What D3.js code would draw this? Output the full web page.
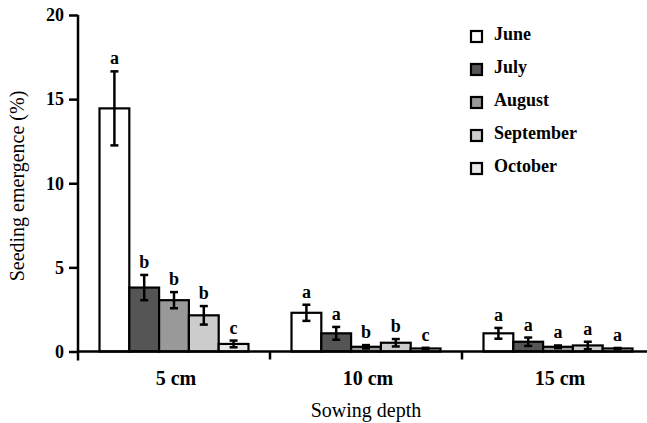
<!DOCTYPE html>
<html>
<head>
<meta charset="utf-8">
<script src="https://cdn.jsdelivr.net/npm/d3@7"></script>
<style>
body { margin: 0; background: #fff; }
</style>
</head>
<body>
<div id="chart"></div>
<script>
// sowing depths and months
var depths = ['5 cm', '10 cm', '15 cm'];
var months = ['June', 'July', 'August', 'September', 'October'];
var colors = ['#ffffff', '#555555', '#999999', '#cccccc', '#e8e8e8'];

// seedling emergence (%) per month, one value per depth
var june = [14.45, 2.3, 1.08];
var july = [3.8, 1.08, 0.58];
var august = [3.05, 0.28, 0.28];
var september = [2.15, 0.52, 0.36];
var october = [0.45, 0.18, 0.18];

// standard errors
var june_err = [2.2, 0.48, 0.32];
var july_err = [0.75, 0.38, 0.25];
var august_err = [0.48, 0.1, 0.08];
var september_err = [0.55, 0.22, 0.22];
var october_err = [0.2, 0.04, 0.03];

// significance letters
var june_sig = ['a', 'a', 'a'];
var july_sig = ['b', 'a', 'a'];
var august_sig = ['b', 'b', 'a'];
var september_sig = ['b', 'b', 'a'];
var october_sig = ['c', 'c', 'a'];

var y_ticks = [0, 5, 10, 15, 20];

var values = [june, july, august, september, october];
var errors = [june_err, july_err, august_err, september_err, october_err];
var letters = [june_sig, july_sig, august_sig, september_sig, october_sig];

var font = '"Liberation Serif", "Times New Roman", "DejaVu Serif", serif';

var svg_width = 647,
	svg_height = 423,
	plot_left = 78,
	plot_right = 654,
	plot_top = 15,
	plot_bottom = 351.5;

var svg = d3.select('#chart')
	.append('svg')
	.attr('width', svg_width)
	.attr('height', svg_height)
	.attr('font-family', font);

var x0 = d3.scaleBand()
	.domain(depths)
	.range([plot_left, plot_right])
	.paddingInner(0.224)
	.paddingOuter(0.112);

var x1 = d3.scaleBand()
	.domain(months)
	.range([0, x0.bandwidth()]);

var y = d3.scaleLinear()
	.domain([0, 20])
	.range([plot_bottom, plot_top]);

// y axis
var y_axis = svg.append('g')
	.attr('transform', 'translate(' + plot_left + ',0)')
	.call(d3.axisLeft(y).tickValues(y_ticks).tickSize(9).tickPadding(5));
y_axis.attr('font-family', font).attr('font-size', 18).attr('font-weight', 'bold');
y_axis.select('.domain').attr('stroke-width', 2.5).attr('d', 'M0,' + plot_top + 'V' + (plot_bottom + 9));
y_axis.selectAll('.tick line').attr('stroke-width', 2.5);

svg.append('text')
	.attr('transform', 'translate(24,186) rotate(-90)')
	.attr('text-anchor', 'middle')
	.attr('font-size', 20)
	.text('Seeding emergence (%)');

// bars
for (var m = 0; m < months.length; m++) {
	for (var d = 0; d < depths.length; d++) {
		var bx = x0(depths[d]) + x1(months[m]);
		var v = values[m][d];
		var e = errors[m][d];
		var cx = bx + x1.bandwidth() / 2;

		svg.append('rect')
			.attr('x', bx)
			.attr('y', y(v))
			.attr('width', x1.bandwidth())
			.attr('height', y(0) - y(v))
			.attr('fill', colors[m])
			.attr('stroke', '#000')
			.attr('stroke-width', 2.2);

		svg.append('line')
			.attr('x1', cx).attr('x2', cx)
			.attr('y1', y(v + e)).attr('y2', y(Math.max(v - e, 0)))
			.attr('stroke', '#000')
			.attr('stroke-width', 2.5);
		[v + e, Math.max(v - e, 0)].forEach(function(t) {
			svg.append('line')
				.attr('x1', cx - 4).attr('x2', cx + 4)
				.attr('y1', y(t)).attr('y2', y(t))
				.attr('stroke', '#000')
				.attr('stroke-width', 2.5);
		});

		svg.append('text')
			.attr('x', cx)
			.attr('y', y(v + e) - 7)
			.attr('text-anchor', 'middle')
			.attr('font-size', 18)
			.attr('font-weight', 'bold')
			.text(letters[m][d]);
	}
}

// x axis
svg.append('line')
	.attr('x1', plot_left).attr('x2', svg_width)
	.attr('y1', y(0)).attr('y2', y(0))
	.attr('stroke', '#000')
	.attr('stroke-width', 2.5);

depths.forEach(function(dp, i) {
	if (i > 0) {
		var sx = x0(dp) - x0.step() * x0.paddingInner() / 2;
		svg.append('line')
			.attr('x1', sx).attr('x2', sx)
			.attr('y1', y(0)).attr('y2', y(0) + 8)
			.attr('stroke', '#000')
			.attr('stroke-width', 2.5);
	}
	svg.append('text')
		.attr('x', x0(dp) + x0.bandwidth() / 2 + 2)
		.attr('y', 385)
		.attr('text-anchor', 'middle')
		.attr('font-size', 20)
		.attr('font-weight', 'bold')
		.text(dp);
});

svg.append('text')
	.attr('x', (plot_left + plot_right) / 2)
	.attr('y', 417)
	.attr('text-anchor', 'middle')
	.attr('font-size', 20)
	.text('Sowing depth');

// legend
var legend = svg.append('g').attr('transform', 'translate(471,0)');
months.forEach(function(mn, i) {
	var ly = 35 + i * 33;
	legend.append('rect')
		.attr('x', 0)
		.attr('y', ly - 4)
		.attr('width', 11)
		.attr('height', 11)
		.attr('fill', colors[i])
		.attr('stroke', '#000')
		.attr('stroke-width', 2.2);
	legend.append('text')
		.attr('x', 23)
		.attr('y', ly + 5)
		.attr('font-size', 18)
		.attr('font-weight', 'bold')
		.text(mn);
});
</script>
</body>
</html>
